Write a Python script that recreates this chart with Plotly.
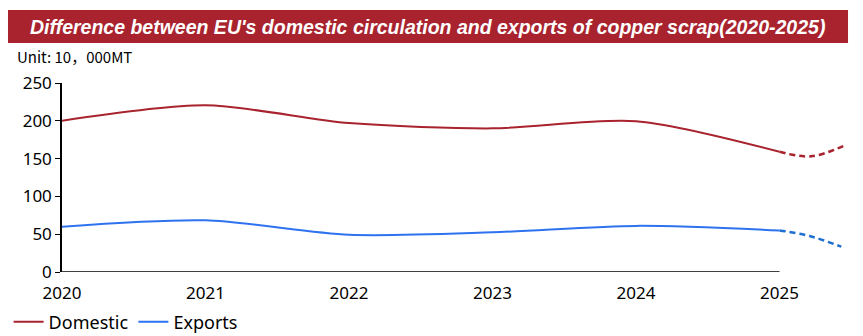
import plotly.graph_objects as go

years = [2020, 2021, 2022, 2023, 2024, 2025]
domestic = [200, 220.5, 197, 190, 199.5, 159]
exports = [60, 68.3, 49.3, 52.5, 61, 55]

fc_x_dom = [2025, 2025.22, 2025.46]
fc_dom = [159, 153, 168]
fc_x_exp = [2025, 2025.21, 2025.43]
fc_exp = [55, 47.6, 33.5]

title_text = "Difference between EU's domestic circulation and exports of copper scrap(2020-2025)"
unit_text = "Unit: 10，000MT"

RED = "#A8232E"
BLUE = "#2F72F0"
BLUE_D = "#1F6FD0"
FONT = "Noto Sans"

fig = go.Figure()
fig.add_trace(go.Scatter(x=years, y=domestic, mode="lines", name="Domestic",
                         line=dict(color=RED, width=2, shape="spline", smoothing=0.8)))
fig.add_trace(go.Scatter(x=years, y=exports, mode="lines", name="Exports",
                         line=dict(color=BLUE, width=2, shape="spline", smoothing=0.8)))
fig.add_trace(go.Scatter(x=fc_x_dom, y=fc_dom, mode="lines", showlegend=False,
                         line=dict(color=RED, width=2.5, dash="6px,4px", shape="spline")))
fig.add_trace(go.Scatter(x=fc_x_exp, y=fc_exp, mode="lines", showlegend=False,
                         line=dict(color=BLUE_D, width=2.5, dash="6px,4px", shape="spline")))

# x axis line only up to 2025
fig.add_shape(type="line", xref="x", yref="y", x0=2020, x1=2025, y0=0, y1=0,
              line=dict(color="black", width=1.5))
# title banner
fig.add_shape(type="rect", xref="paper", yref="paper", x0=-0.0688, x1=1.0013,
              y0=1.2116, y1=1.386, fillcolor=RED, line=dict(width=0), layer="below")
fig.add_annotation(xref="paper", yref="paper", x=0.466, y=1.2988, text="<b><i>" + title_text + "</i></b>",
                   showarrow=False, xanchor="center", yanchor="middle",
                   font=dict(family="Liberation Sans", size=19.5, color="white"))
fig.add_annotation(xref="paper", yref="paper", x=-0.059, y=1.139, text=unit_text,
                   showarrow=False, xanchor="left", yanchor="middle", borderpad=0,
                   font=dict(family="Noto Sans CJK SC", size=15, color="black"))

fig.update_layout(
    width=863, height=336,
    margin=dict(l=62, r=16, t=83, b=64, autoexpand=False),
    paper_bgcolor="white", plot_bgcolor="white",
    font=dict(family=FONT, size=16, color="black"),
    showlegend=True,
    legend=dict(orientation="h", x=-0.068, y=-0.265, xref="paper", yref="paper",
                xanchor="left", yanchor="middle", bgcolor="rgba(0,0,0,0)",
                font=dict(family=FONT, size=18), itemwidth=30, tracegroupgap=0),
    xaxis=dict(range=[2020, 2025.47], tickvals=years, ticktext=[str(y) for y in years],
               showgrid=False, zeroline=False, showline=False, ticks="",
               ticklabelstandoff=9, automargin=False, tickfont=dict(size=17)),
    yaxis=dict(range=[0, 250], dtick=50, showgrid=False, zeroline=False,
               showline=True, linecolor="black", linewidth=1.5, ticks="outside",
               ticklen=5, tickcolor="black", automargin=False, tickfont=dict(size=17)),
)

fig.write_html("out.html")
